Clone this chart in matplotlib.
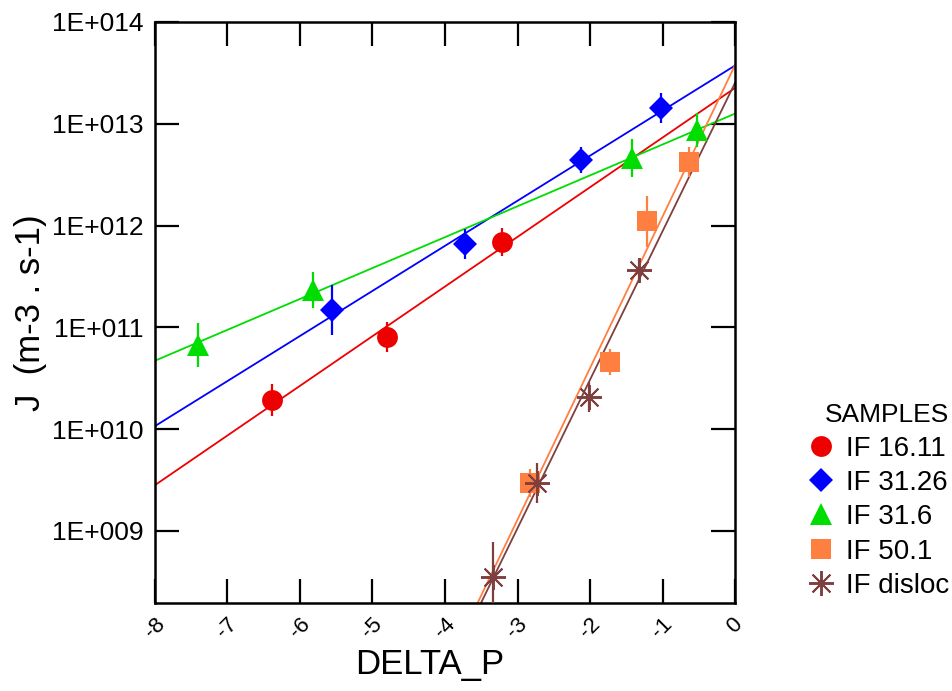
import numpy as np
import matplotlib
matplotlib.use('Agg')
import matplotlib.pyplot as plt

plt.rcParams['font.family'] = ['Liberation Sans', 'DejaVu Sans']

# samples: DELTA_P, J (m-3 . s-1), error bar half-width in decades
x_1611 = [-6.39, -4.80, -3.21]
j_1611 = [1.94e10, 8.05e10, 6.9e11]
e_1611 = [0.16, 0.15, 0.14]

x_3126 = [-5.56, -3.72, -2.12, -1.02]
j_3126 = [1.48e11, 6.6e11, 4.4e12, 1.43e13]
e_3126 = [0.25, 0.15, 0.13, 0.15]

x_316 = [-7.41, -5.82, -1.42, -0.52]
j_316 = [6.7e10, 2.33e11, 4.6e12, 8.7e12]
e_316 = [0.22, 0.18, 0.19, 0.17]

x_501 = [-2.83, -1.72, -1.21, -0.63]
j_501 = [2.96e9, 4.57e10, 1.1e12, 4.2e12]
e_501 = [0.14, 0.13, 0.25, 0.15]

x_disl = [-3.34, -2.73, -2.01, -1.32]
j_disl = [3.53e8, 2.96e9, 2.07e10, 3.66e11]
e_disl = [0.34, 0.20, 0.15, 0.11]

labels = ['IF 16.11', 'IF 31.26', 'IF 31.6', 'IF 50.1', 'IF disloc']
colors = ['#EE0000', '#0000FF', '#00DD00', '#FF7F40', '#7F3F3F']
markers = ['o', 'D', '^', 's', (8, 2, 0)]
sizes = [15, 12, 16, 15, 18]

xticks = [-8, -7, -6, -5, -4, -3, -2, -1, 0]
xticklabels = ['-8', '-7', '-6', '-5', '-4', '-3', '-2', '-1', '0']
yticks = [1e9, 1e10, 1e11, 1e12, 1e13, 1e14]
yticklabels = ['1E+009', '1E+010', '1E+011', '1E+012', '1E+013', '1E+014']

series = [(x_1611, j_1611, e_1611), (x_3126, j_3126, e_3126),
          (x_316, j_316, e_316), (x_501, j_501, e_501),
          (x_disl, j_disl, e_disl)]

fig = plt.figure(figsize=(9.53, 6.91), dpi=100)
ax = fig.add_axes([0.1626, 0.1274, 0.6087, 0.8408])

xx = np.linspace(-8, 0, 200)
for (x, j, e), lab, c, m, s in zip(series, labels, colors, markers, sizes):
    x = np.array(x)
    j = np.array(j)
    e = np.array(e)
    # fit line in log space
    k, b = np.polyfit(x, np.log10(j), 1)
    ax.plot(xx, 10 ** (k * xx + b), color=c, lw=1.3, zorder=2)
    yerr = [j - j / 10 ** e, j * 10 ** e - j]
    ax.errorbar(x, j, yerr=yerr, fmt='none', ecolor=c, elinewidth=1.6,
                capsize=0, zorder=3)
    if m == (8, 2, 0):
        ax.plot(x, j, linestyle='none', marker=m, markersize=s, color=c,
                markeredgewidth=1.4, label=lab, zorder=4)
    else:
        ax.plot(x, j, linestyle='none', marker=m, markersize=s, color=c,
                markeredgewidth=0, label=lab, zorder=4)

ax.set_yscale('log')
ax.set_xlim(-8, 0)
ax.set_ylim(1.96e8, 1e14)
ax.set_xticks(xticks)
ax.set_xticklabels(xticklabels, rotation=45, ha='center', va='top')
ax.set_yticks(yticks)
ax.set_yticklabels(yticklabels)
ax.yaxis.set_minor_locator(matplotlib.ticker.NullLocator())

ax.tick_params(axis='both', direction='in', length=17, width=1.6,
               top=True, right=True)
ax.tick_params(axis='x', labelsize=16, pad=8)
ax.tick_params(axis='y', labelsize=19, pad=8)
for sp in ax.spines.values():
    sp.set_linewidth(1.8)

ax.set_xlabel('DELTA_P', fontsize=25)
ax.xaxis.set_label_coords(0.474, -0.078)
ax.set_ylabel('J  (m-3 . s-1)', fontsize=25, labelpad=4)

leg = ax.legend(title='SAMPLES', loc='upper left', bbox_to_anchor=(1.10, 0.363),
                frameon=False, fontsize=20, title_fontsize=19,
                handletextpad=0.3, labelspacing=0.3, handlelength=1.2,
                borderaxespad=0)
leg._legend_box.align = 'right'

fig.savefig('out.png', dpi=100)
